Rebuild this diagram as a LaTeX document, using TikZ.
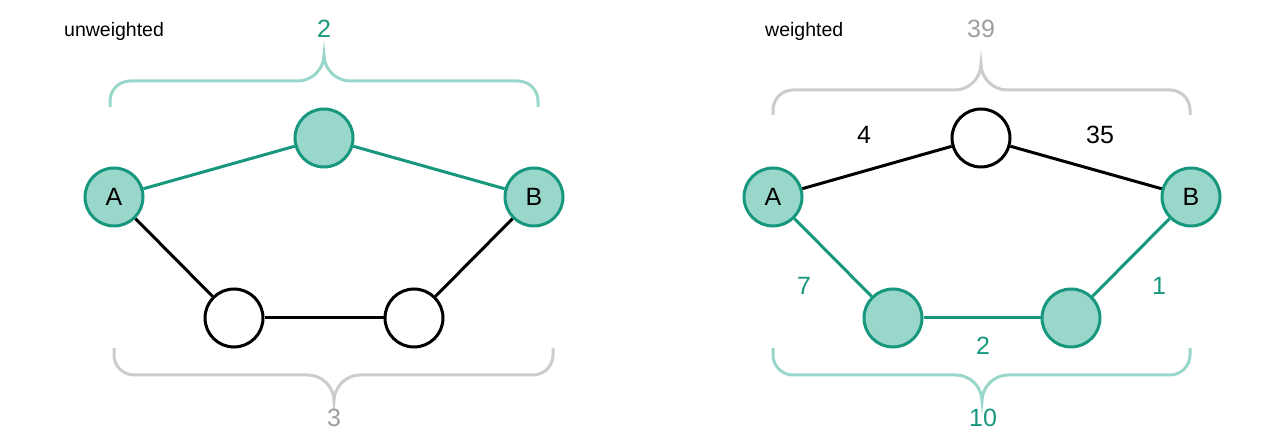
\documentclass[tikz,border=0pt]{standalone}
\usepackage{fontspec}
\setmainfont{Liberation Sans}
\definecolor{teal}{HTML}{17977D}
\definecolor{tealfill}{HTML}{9AD7CB}
\definecolor{bracegray}{HTML}{CCCCCC}
\definecolor{textgray}{HTML}{9E9E9E}
\begin{document}
\begin{tikzpicture}[x=1pt,y=-1pt,
  vtx/.style={circle,minimum size=58pt,inner sep=0pt,line width=3pt,font=\fontsize{25}{25}\selectfont},
  onpath/.style={vtx,draw=teal,fill=tealfill},
  offpath/.style={vtx,draw=black,fill=white},
  tealedge/.style={draw=teal,line width=3pt},
  blackedge/.style={draw=black,line width=3pt},
  tealbrace/.style={draw=tealfill,line width=3pt},
  graybrace/.style={draw=bracegray,line width=3pt},
  num/.style={font=\fontsize{25}{25}\selectfont,inner sep=0pt},
  title/.style={font=\fontsize{19.5}{19.5}\selectfont,inner sep=0pt,anchor=west}
]
\useasboundingbox (0,0) rectangle (1286,435);

% ---------- left: unweighted ----------
\node[title] (tl) at (64,31) {unweighted};
\node[onpath] (LA) at (114,197) {A};
\node[onpath] (LB) at (534,197) {B};
\node[onpath] (LT) at (324,138) {};
\node[offpath] (LL) at (234,318) {};
\node[offpath] (LR) at (414,318) {};
\draw[tealedge] (LA) -- (LT);
\draw[tealedge] (LT) -- (LB);
\draw[blackedge] (LA) -- (LL);
\draw[blackedge] (LL) -- (LR);
\draw[blackedge] (LR) -- (LB);

\draw[tealbrace] (110,107) -- (110,101) .. controls (110,90) and (119,81) .. (130,81) -- (298,81) .. controls (312,81) and (324,69) .. (324,55) .. controls (324,69) and (336,81) .. (350,81) -- (518,81) .. controls (529,81) and (538,90) .. (538,101) -- (538,107);
\node[num,text=teal] (ltop) at (324,29) {2};

\draw[graybrace] (114,348) -- (114,355) .. controls (114,366) and (123,375) .. (134,375) -- (308,375) .. controls (322,375) and (334,387) .. (334,401) .. controls (334,387) and (346,375) .. (360,375) -- (533,375) .. controls (544,375) and (553,366) .. (553,355) -- (553,348);
\node[num,text=textgray] (lbot) at (334,418) {3};

% ---------- right: weighted ----------
\node[title] (tr) at (765,31) {weighted};
\node[onpath] (RA) at (773,197) {A};
\node[onpath] (RB) at (1191,197) {B};
\node[offpath] (RT) at (981,138) {};
\node[onpath] (RL) at (893,318) {};
\node[onpath] (RR) at (1071,318) {};
\draw[blackedge] (RA) -- (RT);
\draw[blackedge] (RT) -- (RB);
\draw[tealedge] (RA) -- (RL);
\draw[tealedge] (RL) -- (RR);
\draw[tealedge] (RR) -- (RB);

\node[num] (w4) at (864,135) {4};
\node[num] (w35) at (1100,135) {35};
\node[num,text=teal] (w7) at (804,286) {7};
\node[num,text=teal] (w1) at (1159,286) {1};
\node[num,text=teal] (w2) at (983,346) {2};

\draw[graybrace] (773,115) -- (773,110) .. controls (773,99) and (782,90) .. (793,90) -- (955,90) .. controls (969,90) and (981,78) .. (981,64) .. controls (981,78) and (993,90) .. (1007,90) -- (1170,90) .. controls (1181,90) and (1190,99) .. (1190,110) -- (1190,115);
\node[num,text=textgray] (rtop) at (981,29) {39};

\draw[tealbrace] (773,348) -- (773,355) .. controls (773,366) and (782,375) .. (793,375) -- (956,375) .. controls (970,375) and (982,387) .. (982,401) .. controls (982,387) and (994,375) .. (1008,375) -- (1170,375) .. controls (1181,375) and (1190,366) .. (1190,355) -- (1190,348);
\node[num,text=teal] (rbot) at (983,418) {10};
\end{tikzpicture}
\end{document}
